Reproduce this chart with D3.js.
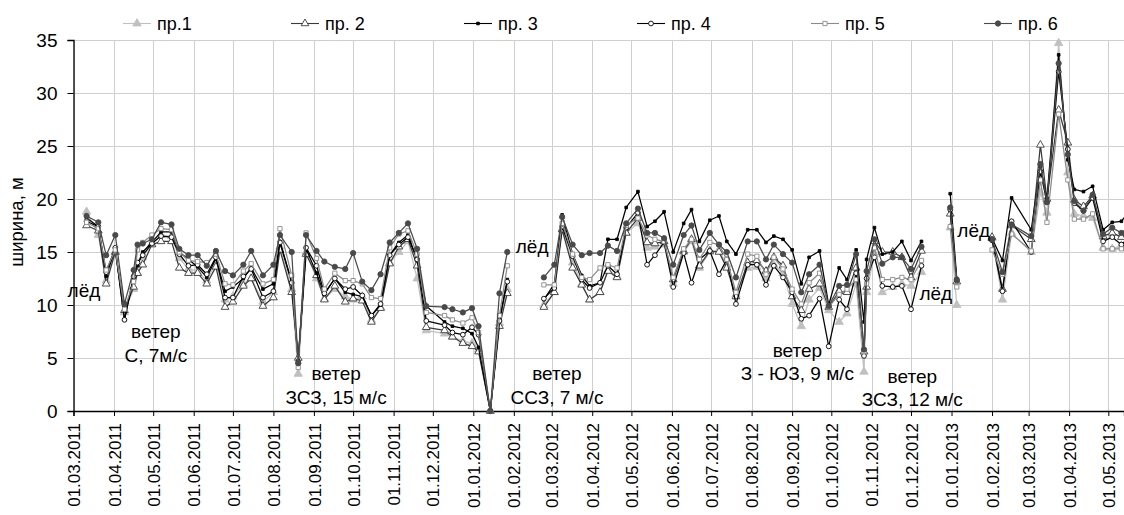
<!DOCTYPE html>
<html><head><meta charset="utf-8">
<script src="https://cdn.jsdelivr.net/npm/d3@7"></script>
<style>
html,body{margin:0;padding:0;background:#fff;}
svg{display:block;font-family:"Liberation Sans",Arial,sans-serif;}
</style></head><body>
<svg id="chart" width="1124" height="515"></svg>
<script>
// ---------- DATA ----------
const dates = ["2011-03-11","2011-03-20","2011-03-26","2011-04-02","2011-04-09","2011-04-16","2011-04-19","2011-04-23","2011-04-30","2011-05-07",
"2011-05-15","2011-05-21","2011-05-28","2011-06-04","2011-06-11","2011-06-18","2011-06-25","2011-07-01","2011-07-09","2011-07-15",
"2011-07-24","2011-08-01","2011-08-06","2011-08-15","2011-08-20","2011-08-26","2011-09-03","2011-09-09","2011-09-17","2011-09-25",
"2011-10-01","2011-10-08","2011-10-15","2011-10-22","2011-10-29","2011-11-05","2011-11-12","2011-11-19","2011-11-26","2011-12-10",
"2011-12-16","2011-12-24","2011-12-31","2012-01-05","2012-01-14","2012-01-21","2012-01-27","2012-02-10",
"2012-02-24","2012-03-03","2012-03-09","2012-03-17","2012-03-24","2012-03-30","2012-04-07","2012-04-13","2012-04-20","2012-04-27",
"2012-05-06","2012-05-13","2012-05-19","2012-05-26","2012-06-02","2012-06-10","2012-06-16","2012-06-22","2012-06-30","2012-07-07",
"2012-07-13","2012-07-20","2012-07-29","2012-08-05","2012-08-12","2012-08-18","2012-08-25","2012-09-01","2012-09-08","2012-09-14",
"2012-09-22","2012-09-29","2012-10-07","2012-10-13","2012-10-20","2012-10-26","2012-10-28","2012-11-03","2012-11-09","2012-11-17",
"2012-11-24","2012-12-01","2012-12-09","2012-12-20",
"2012-12-31","2013-01-05","2013-01-18",
"2013-02-01","2013-02-09","2013-02-16","2013-03-03","2013-03-10","2013-03-15","2013-03-24","2013-03-31","2013-04-05","2013-04-12",
"2013-04-19","2013-04-27","2013-05-04","2013-05-11","2013-05-18"];

const p1 = [18.8,16.6,12.3,15.0,9.3,11.5,13.0,14.5,15.8,16.6, 16.5,14.4,13.4,13.2,12.3,14.0,10.5,10.8,12.0,12.5,
10.3,11.2,15.5,11.5,3.5,15.0,12.5,10.6,11.5,10.8, 10.5,10.8,8.6,9.8,14.0,15.0,16.0,12.5,7.6,7.3,
7.0,6.6,6.4,5.8,0,8.3,11.5,null,
10.0,11.2,17.2,14.0,12.0,10.5,11.2,13.3,12.7,16.8, 17.7,15.4,15.5,15.7,12.0,15.0,16.0,13.5,15.0,15.2,
13.8,11.0,13.5,13.6,12.5,13.8,13.0,10.1,8.0,10.5, 11.6,9.5,8.4,9.2,12.0,3.7,11.2,14.8,11.2,11.7,
12.0,11.8,13.1,null, 17.3,10.0,null,
16.3,10.5,16.8,15.0,20.6,18.7,34.7,22.5,18.6,18.4, 18.2,15.4,15.3,15.6,16.2];

const p2 = [17.5,17.0,12.0,15.0,9.5,11.7,13.0,13.8,15.7,16.0, 16.0,13.5,13.0,13.0,12.0,13.6,9.8,10.3,11.8,12.5,
9.9,10.7,15.2,11.2,5.0,14.8,12.8,10.5,11.8,10.3, 10.6,10.4,8.4,9.7,13.9,15.5,16.2,13.7,7.9,7.6,
7.0,6.4,6.1,5.6,0,8.0,11.1,null,
9.8,11.2,17.1,13.5,11.9,10.5,11.2,13.2,12.6,16.8, 18.2,15.9,15.8,16.0,12.4,15.1,16.2,13.7,15.1,15.0,
13.5,10.8,14.0,14.2,13.2,14.5,13.7,10.8,9.5,11.5, 12.0,9.8,11.3,11.2,13.5,5.6,11.7,16.0,15.0,15.0,
14.5,12.6,15.1,null, 18.6,12.2,null,
16.4,11.5,17.5,16.2,25.1,20.0,28.4,25.3,19.9,19.3, 20.3,16.5,16.8,16.4,17.0];

const p3 = [18.2,17.4,12.7,15.3,8.6,12.6,13.7,15.0,15.9,16.9, 16.9,15.0,14.3,13.6,12.6,14.4,11.3,11.7,12.5,13.5,
11.5,12.0,16.0,12.2,4.8,15.3,13.0,11.0,12.5,11.2, 11.0,10.8,9.0,10.0,14.7,15.9,16.6,14.3,9.9,8.4,
8.0,7.8,7.3,6.0,0,8.6,12.4,null,
10.5,12.0,18.5,14.8,12.8,11.8,12.1,16.2,16.2,19.2, 20.7,17.4,17.9,18.8,15.0,17.7,19.0,16.0,18.0,18.4,
16.0,14.8,17.1,17.1,15.9,16.5,16.2,15.2,12.0,14.5, 15.1,10.0,13.5,12.4,15.2,8.4,14.3,17.3,14.8,15.0,
16.0,14.2,16.0,null, 20.5,12.5,null,
16.3,14.2,20.1,17.1,23.1,20.0,33.6,23.7,20.9,20.7, 21.2,17.1,17.8,17.9,19.0];

const p4 = [17.9,17.4,13.1,15.4,8.6,12.7,14.0,14.7,15.8,16.5, 16.4,14.8,13.7,13.8,12.9,14.5,10.7,10.7,12.7,13.4,
10.7,11.3,15.9,12.1,4.6,15.4,13.7,11.1,12.5,11.5, 11.7,10.9,9.0,10.1,14.7,15.7,16.4,14.3,8.5,8.1,
7.4,7.2,7.9,7.2,0,8.5,12.2,null,
10.6,11.6,17.4,14.6,12.4,11.6,12.1,13.7,12.9,17.3, 18.7,13.8,14.7,15.9,11.7,14.9,12.1,14.3,15.1,12.9,
14.3,10.1,13.8,13.8,11.9,13.7,12.6,11.2,8.7,9.0, 10.6,6.1,10.5,9.6,13.0,5.2,12.5,14.5,11.8,11.7,
11.8,9.6,13.7,null, 19.0,12.3,null,
16.1,11.3,17.9,15.0,22.6,19.7,32.0,24.7,19.6,18.9, 20.1,16.0,16.4,15.7,16.5];

const p5 = [17.8,17.2,13.3,15.2,9.6,12.2,15.2,15.9,16.6,17.2, 17.1,15.0,14.2,14.1,14.0,14.8,12.0,11.9,13.2,13.9,
12.0,12.4,17.2,12.8,4.1,16.8,14.4,11.5,13.0,12.3, 12.3,12.0,10.7,10.6,15.4,16.7,17.0,14.8,9.3,9.0,
8.6,8.3,8.8,7.4,0,9.0,13.7,null,
11.9,11.9,17.7,14.8,12.6,12.4,13.5,13.8,13.5,17.5, 18.2,16.6,16.2,16.0,12.6,15.3,16.2,14.3,15.9,15.7,
14.3,11.2,14.8,14.6,12.9,14.5,13.4,11.5,10.1,12.1, 13.0,9.8,11.0,11.5,12.4,5.6,12.0,15.4,12.4,12.4,
12.6,12.4,14.2,null, 17.4,11.7,null,
15.2,12.9,16.7,15.1,21.8,17.8,28.0,21.8,18.1,18.1, 18.6,15.3,15.3,15.3,16.0];

const p6 = [18.4,17.8,14.7,16.6,10.1,13.3,15.7,15.8,16.2,17.8, 17.6,15.3,14.7,14.7,13.7,15.1,13.2,12.8,13.8,15.1,
12.8,13.8,16.6,15.0,4.5,16.6,15.1,14.1,13.6,13.4, 14.9,12.2,11.4,12.9,15.9,16.8,17.7,15.3,9.9,9.8,
9.6,9.3,9.7,8.0,0,11.1,15.0,null,
12.6,13.8,18.3,15.7,14.7,14.9,14.9,15.6,15.1,17.7, 19.1,16.8,16.8,16.3,13.8,16.6,17.5,15.2,16.8,15.7,
15.0,12.6,16.0,16.0,14.3,15.7,14.8,14.0,11.2,12.9, 13.8,9.9,11.8,11.9,14.8,5.8,13.2,16.2,13.9,14.5,
14.5,13.4,15.5,null, 19.2,12.4,null,
16.2,13.1,17.6,16.5,23.3,19.7,32.8,24.2,19.8,18.9, 20.4,16.7,17.3,16.8,17.5];

const seriesNames = ["пр.1","пр. 2","пр. 3","пр. 4","пр. 5","пр. 6"];
const seriesValues = [p1,p2,p3,p4,p5,p6];
const yTicks = [0,5,10,15,20,25,30,35];
const yTitle = "ширина, м";
const annotations = [
  {t:"лёд", d:"2011-03-09", v:10.8},
  {t:"ветер", d:"2011-05-03", v:6.9},
  {t:"С, 7м/с", d:"2011-05-03", v:4.6},
  {t:"ветер", d:"2011-09-18", v:2.9},
  {t:"ЗСЗ, 15 м/с", d:"2011-09-18", v:0.7},
  {t:"лёд", d:"2012-02-15", v:14.9},
  {t:"ветер", d:"2012-03-05", v:2.9},
  {t:"ССЗ, 7 м/с", d:"2012-03-05", v:0.7},
  {t:"ветер", d:"2012-09-05", v:5.1},
  {t:"З - ЮЗ, 9 м/с", d:"2012-09-05", v:2.9},
  {t:"ветер", d:"2012-12-02", v:2.6},
  {t:"ЗСЗ, 12 м/с", d:"2012-12-02", v:0.45},
  {t:"лёд", d:"2012-12-20", v:10.5},
  {t:"лёд", d:"2013-01-18", v:16.4}
];

// ---------- STYLES / LAYOUT ----------
const styles = [
  {stroke:"#c0c0c0", sym:d3.symbolTriangle, size:30, fill:"#c0c0c0", mstroke:"#c0c0c0"},
  {stroke:"#3a3a3a", sym:d3.symbolTriangle, size:26, fill:"#fff", mstroke:"#3a3a3a"},
  {stroke:"#000", sym:d3.symbolSquare, size:7, fill:"#000", mstroke:"#000"},
  {stroke:"#000", sym:d3.symbolCircle, size:18, fill:"#fff", mstroke:"#000"},
  {stroke:"#8a8a8a", sym:d3.symbolSquare, size:18, fill:"#fff", mstroke:"#8a8a8a"},
  {stroke:"#4a4a4a", sym:d3.symbolCircle, size:22, fill:"#4a4a4a", mstroke:"#4a4a4a"}
];
const legendX = [123, 291, 464, 637, 811, 984];

const parse = d3.timeParse("%Y-%m-%d");
const svg = d3.select("#chart");
const L = 73.5, R = 1124, T = 40, B = 411;
const x = d3.scaleTime().domain([parse("2011-03-01"), parse("2013-05-13")]).range([L, R]);
const y = d3.scaleLinear().domain([0,35]).range([B, T]);

// grid
const months = d3.timeMonth.range(parse("2011-03-01"), parse("2013-05-13"));
svg.append("g").selectAll("line").data(months).join("line")
  .attr("x1", d=>Math.round(x(d))+0.5).attr("x2", d=>Math.round(x(d))+0.5)
  .attr("y1", T).attr("y2", B).attr("stroke","#cfcfcf").attr("stroke-width",1);
svg.append("g").selectAll("line").data(yTicks.filter(v=>v>0)).join("line")
  .attr("x1", L).attr("x2", R).attr("y1", d=>Math.round(y(d))+0.5).attr("y2", d=>Math.round(y(d))+0.5)
  .attr("stroke","#cfcfcf").attr("stroke-width",1);

// axes
const yAxis = svg.append("g").attr("transform",`translate(${L},0)`)
  .call(d3.axisLeft(y).tickValues(yTicks).tickSize(6).tickPadding(10).tickFormat(d3.format("d")));
yAxis.select(".domain").attr("stroke","#000").attr("stroke-width",1.3);
yAxis.selectAll(".tick line").attr("stroke","#000");
yAxis.selectAll("text").attr("font-size","19px").attr("fill","#000").attr("font-family","Liberation Sans, Arial, sans-serif");

const xAxis = svg.append("g").attr("transform",`translate(0,${B})`)
  .call(d3.axisBottom(x).tickValues(months).tickSize(5).tickFormat(d3.timeFormat("%d.%m.%Y")));
xAxis.select(".domain").attr("stroke","#000").attr("stroke-width",1.3);
xAxis.selectAll(".tick line").attr("stroke","#000");
xAxis.selectAll("text").attr("font-size","17px").attr("fill","#000")
  .attr("font-family","Liberation Sans, Arial, sans-serif")
  .attr("text-anchor","end").attr("transform","rotate(-90)")
  .attr("x",-12).attr("y",0).attr("dy","0.36em");

// y title
svg.append("text").attr("transform","translate(23,222) rotate(-90)")
  .attr("text-anchor","middle").attr("font-size","18.5px").text(yTitle);

// clip
svg.append("clipPath").attr("id","clip").append("rect")
  .attr("x",L).attr("y",T-8).attr("width",R-L).attr("height",B-T+12);

const plot = svg.append("g").attr("clip-path","url(#clip)");
const dts = dates.map(parse);
seriesValues.forEach((vals,i)=>{
  const st = styles[i];
  const pts = dts.map((d,k)=>({d, v:vals[k]}));
  const line = d3.line().defined(p=>p.v!==null).x(p=>x(p.d)).y(p=>y(p.v));
  const g = plot.append("g");
  g.append("path").attr("d", line(pts)).attr("fill","none")
    .attr("stroke",st.stroke).attr("stroke-width",1.25).attr("stroke-linejoin","round");
  g.selectAll("path.m").data(pts.filter(p=>p.v!==null)).join("path").attr("class","m")
    .attr("transform",p=>`translate(${x(p.d)},${y(p.v)})`)
    .attr("d", d3.symbol().type(st.sym).size(st.size))
    .attr("fill",st.fill).attr("stroke",st.mstroke).attr("stroke-width",0.9);
});

// annotations
svg.append("g").selectAll("text").data(annotations).join("text")
  .attr("x", a=>x(parse(a.d))).attr("y", a=>y(a.v))
  .attr("text-anchor","middle").attr("font-size","19px").attr("fill","#000")
  .text(a=>a.t);

// legend
const lg = svg.append("g");
seriesNames.forEach((n,i)=>{
  const st = styles[i], lx = legendX[i];
  lg.append("line").attr("x1",lx).attr("x2",lx+28).attr("y1",23.5).attr("y2",23.5)
    .attr("stroke",st.stroke).attr("stroke-width",1.1);
  lg.append("path").attr("transform",`translate(${lx+14},23.5)`)
    .attr("d", d3.symbol().type(st.sym).size(st.size))
    .attr("fill",st.fill).attr("stroke",st.mstroke).attr("stroke-width",0.9);
  lg.append("text").attr("x",lx+34).attr("y",29.5).attr("font-size","18px").text(n);
});
</script>
</body></html>
